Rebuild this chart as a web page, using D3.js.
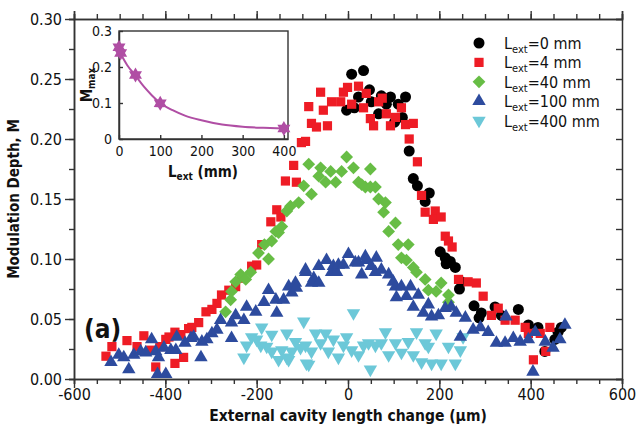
<!DOCTYPE html>
<html><head><meta charset="utf-8">
<script src="https://cdn.jsdelivr.net/npm/d3@7"></script>
<style>
body{margin:0;background:#fff}
text{font-family:"DejaVu Sans Condensed","DejaVu Sans",sans-serif;fill:#111}
</style>
</head><body><svg id="c" width="638" height="431"></svg>
<script>
// ---- data ----
const seriesNames = ["0 mm","4 mm","40 mm","100 mm","400 mm"];
const xTicks = [-600,-400,-200,0,200,400,600];
const yTicks = [0,0.05,0.10,0.15,0.20,0.25,0.30];

const black_x = [-3,14,8,34,23,47,51,67,73,93,102,119,126,110,84,134,143,152,178,169,202,213,224,215,235,248,244,276,292,287,322,336,373,395,416,431,460,453,467];
const black_y = [0.224,0.226,0.254,0.257,0.235,0.241,0.231,0.221,0.236,0.235,0.214,0.218,0.235,0.229,0.229,0.190,0.167,0.161,0.155,0.148,0.106,0.101,0.098,0.096,0.093,0.081,0.075,0.061,0.055,0.051,0.060,0.053,0.058,0.045,0.043,0.023,0.039,0.033,0.043];

const red_x = [-530,-517,-484,-447,-462,-432,-421,-399,-392,-379,-379,-360,-366,-349,-327,-311,-298,-277,-246,-233,-211,-200,-189,-169,-156,-147,-137,-119,-113,-102,-93,-86,-80,-69,-60,-54,-45,-36,-16,-10,-1,23,40,8,34,67,75,49,56,84,104,117,93,126,143,134,152,161,169,191,187,204,213,220,228,242,263,281,296,314,329,344,366,388,406,433,442,421,395,-261,-287,-412,-342];
const red_y = [0.019,0.027,0.032,0.036,0.027,0.024,0.010,0.033,0.035,0.039,0.013,0.018,0.037,0.042,0.047,0.056,0.058,0.070,0.077,0.084,0.094,0.095,0.112,0.131,0.141,0.135,0.165,0.178,0.164,0.197,0.198,0.227,0.213,0.210,0.239,0.224,0.211,0.231,0.231,0.239,0.243,0.244,0.238,0.229,0.226,0.231,0.234,0.217,0.211,0.221,0.218,0.226,0.211,0.212,0.213,0.200,0.181,0.153,0.139,0.140,0.133,0.135,0.119,0.115,0.110,0.083,0.081,0.080,0.069,0.053,0.059,0.049,0.049,0.043,0.016,0.023,0.043,0.038,0.038,0.074,0.063,0.027,0.043];

const green_x = [-268,-257,-255,-246,-235,-224,-213,-196,-183,-174,-167,-158,-152,-145,-134,-126,-108,-97,-86,-80,-64,-60,-49,-38,-27,-14,-3,12,23,30,38,49,49,60,67,78,82,89,104,110,132,117,128,143,150,169,176,204,193,220,220];
const green_y = [0.056,0.066,0.073,0.081,0.087,0.083,0.089,0.105,0.112,0.100,0.115,0.123,0.122,0.127,0.140,0.144,0.147,0.161,0.179,0.154,0.169,0.176,0.164,0.173,0.164,0.173,0.185,0.176,0.164,0.162,0.160,0.175,0.160,0.160,0.150,0.139,0.147,0.123,0.130,0.112,0.112,0.101,0.099,0.093,0.089,0.083,0.074,0.080,0.073,0.070,0.064];

const blue_x = [-519,-502,-491,-480,-469,-454,-443,-430,-421,-415,-417,-399,-403,-388,-377,-375,-357,-344,-338,-322,-320,-309,-298,-287,-279,-255,-255,-246,-228,-222,-202,-184,-174,-156,-158,-141,-130,-123,-115,-113,-93,-93,-80,-75,-64,-64,-47,-36,-32,-25,-21,-10,1,16,23,30,38,40,51,60,62,73,89,99,104,117,137,106,128,154,143,165,176,183,198,213,226,237,257,246,274,290,307,325,346,344,362,377,395,410,432,449,464,475,405];
const blue_y = [0.014,0.020,0.018,0.008,0.020,0.023,0.022,0.033,0.023,0.018,0.004,0.004,0.026,0.024,0.024,0.035,0.030,0.034,0.035,0.018,0.031,0.033,0.038,0.041,0.049,0.047,0.034,0.053,0.049,0.060,0.056,0.064,0.074,0.055,0.066,0.066,0.077,0.072,0.080,0.076,0.089,0.091,0.080,0.084,0.080,0.094,0.099,0.089,0.094,0.089,0.095,0.095,0.104,0.097,0.097,0.087,0.102,0.099,0.094,0.089,0.101,0.091,0.087,0.081,0.077,0.077,0.077,0.068,0.069,0.070,0.060,0.055,0.062,0.052,0.053,0.059,0.060,0.055,0.051,0.035,0.041,0.043,0.039,0.030,0.052,0.030,0.034,0.031,0.033,0.039,0.031,0.026,0.033,0.045,0.006];

const cyan_x = [-228,-222,-211,-200,-189,-191,-178,-167,-167,-152,-145,-134,-134,-123,-115,-97,-104,-93,-86,-80,-71,-60,-49,-43,-32,-21,-10,-3,12,8,23,34,49,45,60,73,82,89,104,117,132,143,150,161,169,176,193,204,183,220,235,246,252,-130,-91];
const cyan_y = [0.018,0.028,0.035,0.033,0.043,0.028,0.027,0.037,0.023,0.016,0.024,0.038,0.018,0.023,0.031,0.048,0.026,0.028,0.012,0.023,0.038,0.030,0.038,0.023,0.033,0.018,0.028,0.035,0.055,0.024,0.020,0.028,0.008,0.030,0.028,0.030,0.039,0.020,0.030,0.022,0.031,0.020,0.039,0.014,0.030,0.027,0.038,0.013,0.013,0.027,0.013,0.024,0.035,0.016,0.013];

// inset data
const inset_L = [0,4,40,100,400];
const inset_M = [0.255,0.239,0.178,0.099,0.029];
const fit_L = [0,20,40,60,80,100,130,160,200,250,300,350,400];
const fit_M = [0.245,0.205,0.176,0.146,0.121,0.100,0.080,0.065,0.052,0.040,0.034,0.031,0.029];
const insetXTicks = [0,100,200,300,400];
const insetYTicks = [0,0.1,0.2,0.3];

// ---- drawing ----
const svg = d3.select("#c");
const x = d3.scaleLinear().domain([-600,600]).range([74,622]);
const y = d3.scaleLinear().domain([0,0.30]).range([379,19]);
const axisCol = "#333";

function zip(a,b){const n=Math.min(a.length,b.length);return d3.range(n).map(i=>[a[i],b[i]]);}

// axes
const minorX = d3.range(-600,601,50), minorY = d3.range(0,0.3001,0.025);
function styleAxis(g){g.selectAll("path,line").attr("stroke",axisCol).attr("stroke-width",1.4);g.select(".domain").attr("stroke-width",1.5);}
svg.append("g").attr("transform","translate(0,379)")
  .call(d3.axisBottom(x).tickValues(minorX).tickSize(5).tickFormat("")).call(styleAxis);
svg.append("g").attr("transform","translate(0,379)")
  .call(d3.axisBottom(x).tickValues(xTicks).tickSize(9).tickSizeOuter(0).tickPadding(1).tickFormat(d=>String(d)))
  .call(styleAxis).call(g=>g.selectAll("text").attr("font-size",16).attr("fill","#111").attr("font-family",null));
svg.append("g").attr("transform","translate(0,19)")
  .call(d3.axisTop(x).tickValues(minorX).tickSize(5).tickFormat("")).call(styleAxis);
svg.append("g").attr("transform","translate(0,19)")
  .call(d3.axisTop(x).tickValues(xTicks).tickSize(8).tickFormat("")).call(styleAxis);
svg.append("g").attr("transform","translate(74,0)")
  .call(d3.axisLeft(y).tickValues(minorY).tickSize(5).tickFormat("")).call(styleAxis);
svg.append("g").attr("transform","translate(74,0)")
  .call(d3.axisLeft(y).tickValues(yTicks).tickSize(9).tickSizeOuter(0).tickPadding(3).tickFormat(d3.format(".2f")))
  .call(styleAxis).call(g=>g.selectAll("text").attr("font-size",16).attr("fill","#111").attr("font-family",null));
svg.append("g").attr("transform","translate(622,0)")
  .call(d3.axisRight(y).tickValues(minorY).tickSize(-6).tickFormat("")).call(styleAxis);

svg.append("text").attr("x",348).attr("y",421).attr("text-anchor","middle")
  .attr("font-size",15.5).attr("font-weight","bold").text("External cavity length change (μm)");
svg.append("text").attr("transform","translate(19,199) rotate(-90)").attr("text-anchor","middle")
  .attr("font-size",15).attr("font-weight","bold").text("Modulation Depth, M");
svg.append("text").attr("x",84).attr("y",338).attr("font-size",26).attr("font-weight","bold").text("(a)");

// markers
const series = [
  {name:seriesNames[0], xs:black_x, ys:black_y, color:"#000000", sym:d3.symbolCircle, size:95, rot:0},
  {name:seriesNames[1], xs:red_x, ys:red_y, color:"#ee1c25", sym:d3.symbolSquare, size:85, rot:0},
  {name:seriesNames[2], xs:green_x, ys:green_y, color:"#67bd45", sym:d3.symbolSquare, size:82, rot:45},
  {name:seriesNames[4], xs:cyan_x, ys:cyan_y, color:"#6cc8d8", sym:d3.symbolTriangle, size:78, rot:180},
  {name:seriesNames[3], xs:blue_x, ys:blue_y, color:"#2d4b9e", sym:d3.symbolTriangle, size:78, rot:0}
];
series.forEach(s=>{
  const path = d3.symbol().type(s.sym).size(s.size)();
  svg.append("g").selectAll("path").data(zip(s.xs,s.ys)).join("path")
    .attr("d",path).attr("fill",s.color)
    .attr("transform",d=>`translate(${x(d[0])},${y(d[1])}) rotate(${s.rot})`);
});

// legend
const legendSeries = [series[0],series[1],series[2],series[4],series[3]];
legendSeries.forEach((s,i)=>{
  const ly = 43 + i*19.4;
  svg.append("path").attr("d",d3.symbol().type(s.sym).size(s.size)())
    .attr("fill",s.color).attr("transform",`translate(479,${ly}) rotate(${s.rot})`);
  const t = svg.append("text").attr("x",504).attr("y",ly+6).attr("font-size",16);
  t.append("tspan").text("L");
  t.append("tspan").attr("font-size",11).attr("dy",4).text("ext");
  t.append("tspan").attr("dy",-4).text("="+s.name);
});

// inset
const xi = d3.scaleLinear().domain([0,410]).range([119,288]);
const yi = d3.scaleLinear().domain([0,0.3]).range([139,31]);
svg.append("rect").attr("x",119).attr("y",31).attr("width",169).attr("height",108)
  .attr("fill","#fff").attr("stroke",axisCol).attr("stroke-width",1.4);
svg.append("g").attr("transform","translate(0,139)")
  .call(d3.axisBottom(xi).tickValues(insetXTicks).tickSizeInner(-4).tickSizeOuter(0).tickPadding(7).tickFormat(d=>String(d)))
  .call(styleAxis).call(g=>g.selectAll("text").attr("font-size",14).attr("fill","#111").attr("font-family",null));
svg.append("g").attr("transform","translate(119,0)")
  .call(d3.axisLeft(yi).tickValues(insetYTicks).tickSizeInner(-4).tickSizeOuter(0).tickPadding(7).tickFormat(d=>d===0?"0":d3.format(".1f")(d)))
  .call(styleAxis).call(g=>g.selectAll("text").attr("font-size",14).attr("fill","#111").attr("font-family",null));
const magenta = "#b04ea4";
svg.append("path").datum(zip(fit_L,fit_M))
  .attr("d",d3.line().x(d=>xi(d[0])).y(d=>yi(d[1])).curve(d3.curveMonotoneX))
  .attr("fill","none").attr("stroke",magenta).attr("stroke-width",2);
function hexagram(r){const pts=d3.range(12).map(i=>{const a=i*Math.PI/6-Math.PI/2;const rr=i%2?r*0.58:r;return [rr*Math.cos(a),rr*Math.sin(a)];});return "M"+pts.join("L")+"Z";}
svg.append("g").selectAll("path").data(zip(inset_L,inset_M)).join("path")
  .attr("d",hexagram(7.5)).attr("fill",magenta)
  .attr("transform",d=>`translate(${xi(d[0])},${yi(d[1])})`);
const lx = svg.append("text").attr("x",203).attr("y",177).attr("text-anchor","middle").attr("font-size",15).attr("font-weight","bold");
lx.append("tspan").text("L"); lx.append("tspan").attr("font-size",10).attr("dy",3).text("ext"); lx.append("tspan").attr("dy",-3).text(" (mm)");
const ly = svg.append("text").attr("transform","translate(92,85) rotate(-90)").attr("text-anchor","middle").attr("font-size",15).attr("font-weight","bold");
ly.append("tspan").text("M"); ly.append("tspan").attr("font-size",10).attr("dy",3).text("max");
</script>
</body></html>
